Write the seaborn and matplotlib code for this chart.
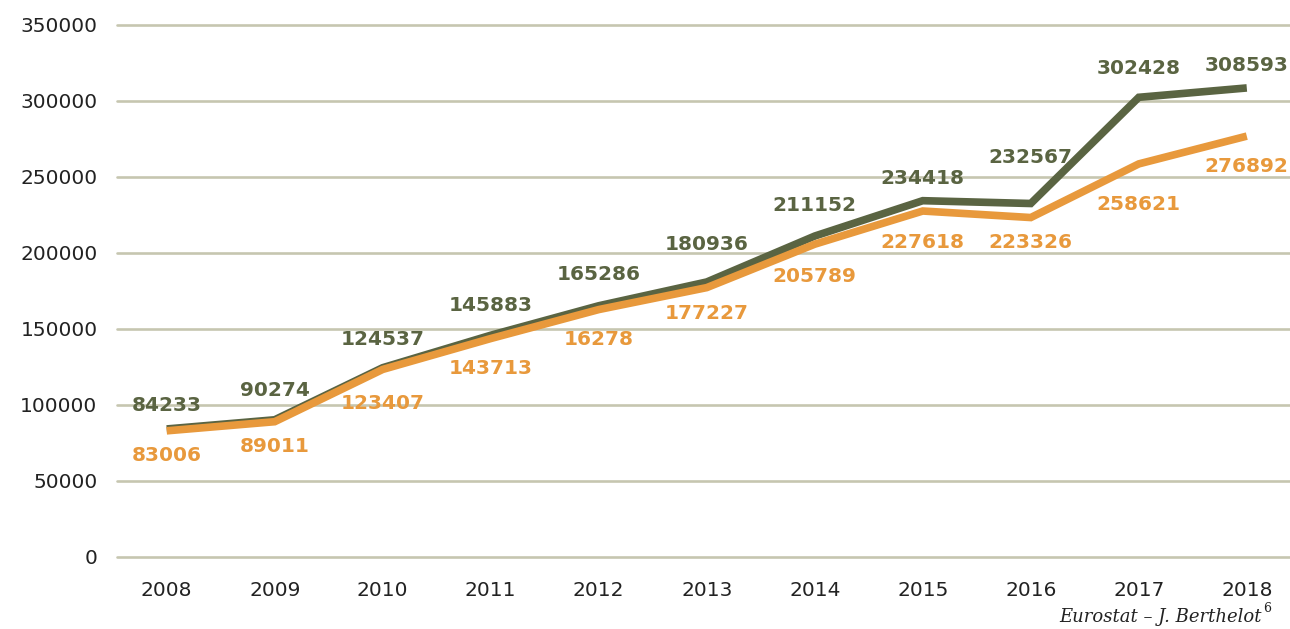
import matplotlib
matplotlib.use("Agg")
import matplotlib.pyplot as plt
import seaborn as sns
import pandas as pd

# ---- data ----
years = [2008, 2009, 2010, 2011, 2012, 2013, 2014, 2015, 2016, 2017, 2018]
series_green = [84233, 90274, 124537, 145883, 165286, 180936, 211152, 234418, 232567, 302428, 308593]
series_orange = [83006, 89011, 123407, 143713, 162780, 177227, 205789, 227618, 223326, 258621, 276892]
labels_green = ["84233", "90274", "124537", "145883", "165286", "180936",
                "211152", "234418", "232567", "302428", "308593"]
labels_orange = ["83006", "89011", "123407", "143713", "16278", "177227",
                 "205789", "227618", "223326", "258621", "276892"]
yticks = [0, 50000, 100000, 150000, 200000, 250000, 300000, 350000]
source_text = "Eurostat – J. Berthelot"
source_sup = "6"

# ---- style ----
GREEN = "#5a6442"
ORANGE = "#e8993c"
GRID = "#c6c6b0"

sns.set_theme(style="white")
plt.rcParams['font.family'] = ['DejaVu Sans']

df = pd.DataFrame({
    "year": years * 2,
    "value": series_green + series_orange,
    "series": ["green"] * len(years) + ["orange"] * len(years),
})

fig = plt.figure(figsize=(12.9, 6.29), dpi=100)
ax = fig.add_axes([117 / 1290, 1 - 557 / 629, 1 - 117 / 1290, (557 - 25) / 629])

sns.lineplot(data=df, x="year", y="value", hue="series", hue_order=["green", "orange"],
             palette={"green": GREEN, "orange": ORANGE}, linewidth=5.5, legend=False,
             sort=False, ax=ax, solid_capstyle="butt", solid_joinstyle="miter")

ax.set_xlim(2007.54, 2018.4)
ax.set_ylim(0, 350000)
ax.set_yticks(yticks)
ax.set_yticklabels([str(t) for t in yticks])
ax.set_xticks(years)
ax.set_xticklabels([str(y) for y in years])
ax.tick_params(axis="both", length=0, labelsize=14.5, labelcolor="#222222")
ax.tick_params(axis="y", pad=14)
ax.tick_params(axis="x", pad=17)
ax.set_xlabel("")
ax.set_ylabel("")
for s in ax.spines.values():
    s.set_visible(False)
ax.yaxis.grid(True, color=GRID, linewidth=1.9)
ax.xaxis.grid(False)
ax.set_axisbelow(True)
for gl in ax.get_ygridlines():
    gl.set_clip_on(False)

# label offsets in pixels (positioning only)
off_green = [23, 29, 28, 30, 31, 37, 31, 22, 46, 29, 22]
off_orange = [-25, -25, -34, -30, -30, -26, -32, -31, -25, -41, -30]

for x, v, t, o in zip(years, series_green, labels_green, off_green):
    ax.annotate(t, (x, v), xytext=(0, o), textcoords="offset pixels", ha="center",
                va="center", color=GREEN, fontsize=14.5, fontweight="bold")
for x, v, t, o in zip(years, series_orange, labels_orange, off_orange):
    ax.annotate(t, (x, v), xytext=(0, o), textcoords="offset pixels", ha="center",
                va="center", color=ORANGE, fontsize=14.5, fontweight="bold")

fig.text(1262 / 1290, 1 - 622 / 629, source_text, ha="right", va="baseline",
         family="DejaVu Serif", fontstyle="italic", fontsize=13, color="#222222")
fig.text(1263 / 1290, 1 - 612 / 629, source_sup, ha="left", va="baseline",
         family="DejaVu Serif", fontsize=9, color="#222222")

fig.savefig("out.png", dpi=100)
